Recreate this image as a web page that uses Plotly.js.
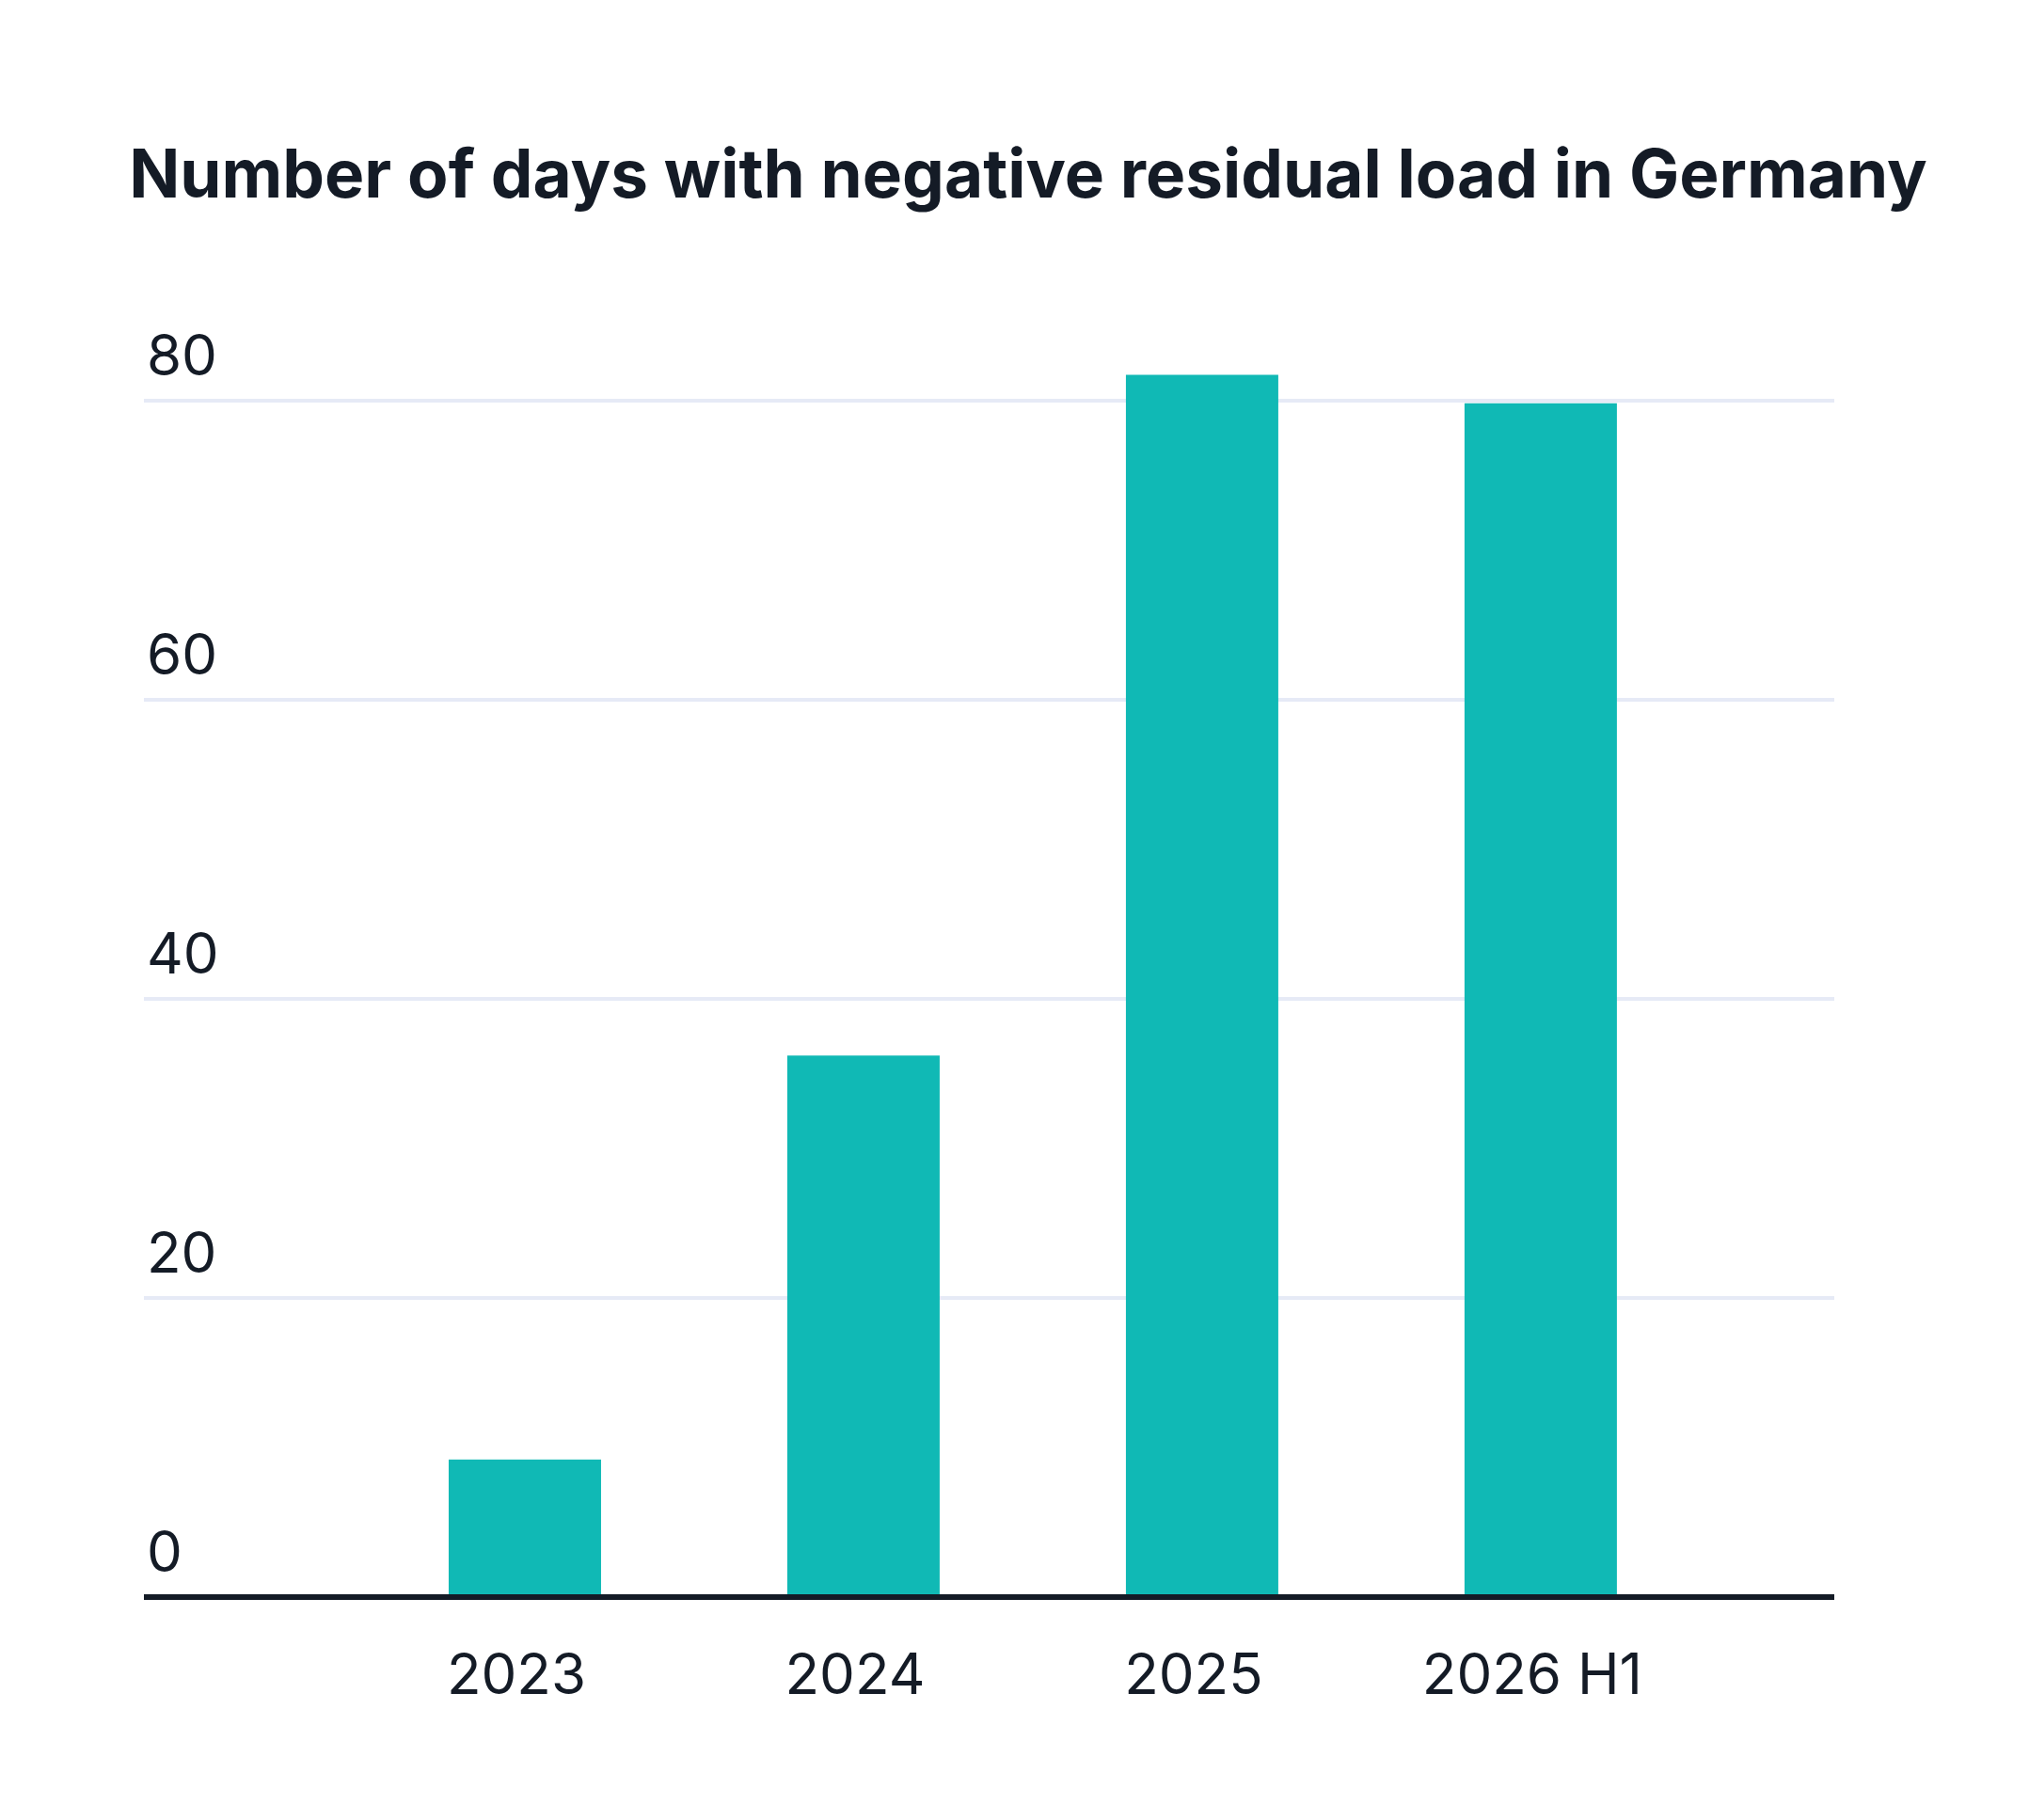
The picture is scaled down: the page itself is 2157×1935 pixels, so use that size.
<!DOCTYPE html>
<html>
<head>
<meta charset="utf-8">
<script src="https://cdn.plot.ly/plotly-3.0.1.min.js"></script>
<style>
  html, body { margin: 0; padding: 0; background: #ffffff; }
  #chart { width: 2157px; height: 1935px; }
</style>
</head>
<body>
<div id="chart"></div>
<script>
// values
const categories = ['2023', '2024', '2025', '2026 H1'];
const daysNegative = [9.2, 36.2, 81.7, 79.8];
const yTicks = [0, 20, 40, 60, 80];

const textColor = '#141b26';

document.addEventListener("DOMContentLoaded", function () {
    let chart = document.getElementById("chart");

    Plotly.newPlot(chart, [{
        x: categories,
        y: daysNegative,
        type: 'bar',
        width: 0.45,
        marker: { color: '#10b9b5', line: { width: 0 } },
        hoverinfo: 'skip'
    }], {
        width: 2157,
        height: 1935,
        margin: { l: 153, r: 207, t: 319, b: 234 },
        paper_bgcolor: '#ffffff',
        plot_bgcolor: '#ffffff',
        font: { family: 'Inter, "Noto Sans", sans-serif', color: textColor, size: 60 },
        showlegend: false,
        title: {
            text: '<b>Number of days with negative residual load in Germany</b>',
            font: { family: 'Inter, "Noto Sans", sans-serif', size: 71, color: textColor },
            x: 1093 / 2157,
            xanchor: 'center',
            xref: 'container',
            y: 1 - 185 / 1935,
            yref: 'container',
            yanchor: 'middle'
        },
        xaxis: {
            type: 'category',
            range: [-1.125, 3.867],
            showgrid: false,
            zeroline: false,
            showline: false,
            ticks: '',
            ticklabelstandoff: 39,
            ticklabelshift: -9,
            tickfont: { size: 60, color: textColor }
        },
        yaxis: {
            range: [-0.19, 86.7],
            tickvals: yTicks,
            ticktext: yTicks.map(String),
            showgrid: true,
            gridcolor: '#e6eaf6',
            gridwidth: 4,
            zeroline: false,
            showline: false,
            ticks: '',
            ticklabelposition: 'inside top',
            ticklabelshift: -6,
            ticklabelstandoff: 0,
            tickfont: { size: 60, color: textColor }
        },
        // baseline rule along y = 0
        shapes: [{
            type: 'line',
            xref: 'paper', x0: 0, x1: 1,
            yref: 'y', y0: 0, y1: 0,
            line: { color: textColor, width: 6 },
            layer: 'above'
        }]
    }, { displayModeBar: false, staticPlot: true });
});
</script>
</body>
</html>
